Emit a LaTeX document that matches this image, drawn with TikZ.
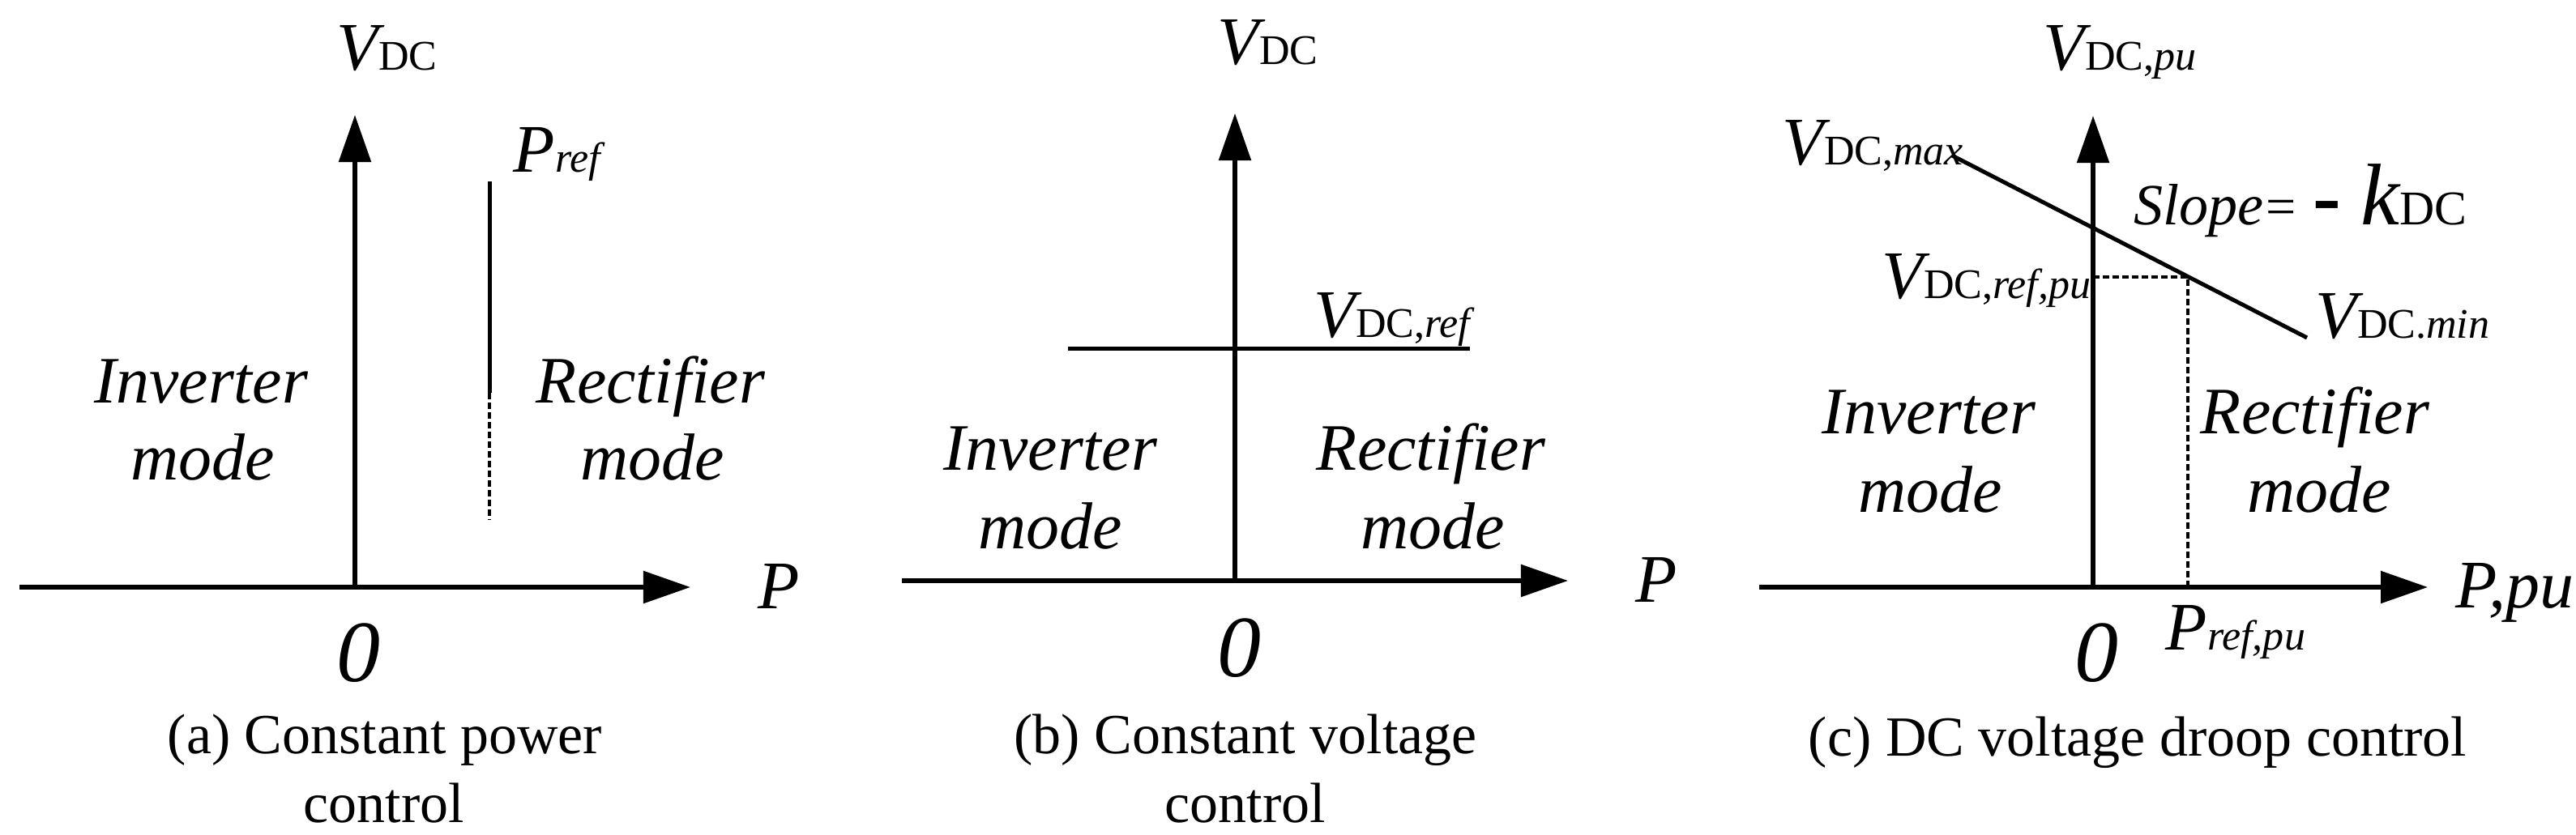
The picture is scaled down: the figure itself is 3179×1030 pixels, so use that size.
\documentclass[tikz,border=0pt]{standalone}
\usepackage{fontspec}
\setmainfont{Liberation Serif}
\usetikzlibrary{arrows.meta}
\newcommand\fsz[1]{\fontsize{#1pt}{#1pt}\selectfont}
\newcommand\mainfs{\fsz{23.9}}
\newcommand\subfs{\fsz{14.8}}
\newcommand\Vl[1]{{\mainfs\itshape V}{\subfs #1}}
\newcommand\Pl[1]{{\mainfs\itshape P}{\subfs\itshape #1}}
\newcommand\modef{\fsz{23.3}\itshape}
\newcommand\capf{\fsz{19.9}}
\newcommand\zerof{\fsz{30.7}\itshape}
\begin{document}
\begin{tikzpicture}[x=0.01cm,y=-0.01cm,
  axis/.style={line width=0.055cm,-{Triangle[length=0.58cm,width=0.39cm]}},
  ln/.style={line width=0.05cm},
  dsh/.style={line width=0.045cm,dash pattern=on 0.08cm off 0.04cm},
  lbl/.style={inner sep=0pt,anchor=base west},
  ctr/.style={inner sep=0pt,anchor=base},
  modetxt/.style={ctr,font=\modef},
  captxt/.style={ctr,font=\capf},
  zerotxt/.style={ctr,font=\zerof}]
\useasboundingbox (0,0) rectangle (3179,1030);

% ---------------- (a) ----------------
\coordinate (ao) at (438,725);
\coordinate (axl) at (24,725);
\coordinate (axr) at (852,725);
\coordinate (ayt) at (438,142);
\draw[axis] (axl) -- (axr);
\draw[axis] (ao) -- (ayt);
\coordinate (ap1) at (604,224);
\coordinate (ap2) at (604,485);
\coordinate (ap3) at (604,642);
\draw[ln] (ap1) -- (ap2);
\draw[dsh] (ap2) -- (ap3);
\node[lbl] (aV) at (415,86) {\Vl{DC}};
\node[lbl] (aPref) at (633,212) {\Pl{ref}};
\node[modetxt] (aInv) at (248,497) {Inverter};
\node[modetxt] (aInvm) at (250,592) {mode};
\node[modetxt] (aRec) at (803,497) {Rectifier};
\node[modetxt] (aRecm) at (805,592) {mode};
\node[lbl] (aP) at (935,751) {{\mainfs\itshape P}};
\node[zerotxt] (a0) at (442,841) {0};
\node[captxt] (acap1) at (475,930) {(a) Constant power};
\node[captxt] (acap2) at (474,1015) {control};

% ---------------- (b) ----------------
\coordinate (bo) at (1524,717);
\coordinate (bxl) at (1113,717);
\coordinate (bxr) at (1935,717);
\coordinate (byt) at (1524,140);
\draw[axis] (bxl) -- (bxr);
\draw[axis] (bo) -- (byt);
\coordinate (bl1) at (1318,430);
\coordinate (bl2) at (1814,430);
\draw[ln] (bl1) -- (bl2);
\node[lbl] (bV) at (1502,79) {\Vl{DC}};
\node[lbl] (bVref) at (1621,416) {\Vl{DC,\textit{ref}}};
\node[modetxt] (bInv) at (1296,580) {Inverter};
\node[modetxt] (bInvm) at (1296,677) {mode};
\node[modetxt] (bRec) at (1766,580) {Rectifier};
\node[modetxt] (bRecm) at (1768,677) {mode};
\node[lbl] (bP) at (2018,743) {{\mainfs\itshape P}};
\node[zerotxt] (b0) at (1529,835) {0};
\node[captxt] (bcap1) at (1537,930) {(b) Constant voltage};
\node[captxt] (bcap2) at (1537,1015) {control};

% ---------------- (c) ----------------
\coordinate (co) at (2583,725);
\coordinate (cxl) at (2171,725);
\coordinate (cxr) at (2996,725);
\coordinate (cyt) at (2583,143);
\draw[axis] (cxl) -- (cxr);
\draw[axis] (co) -- (cyt);
\coordinate (cd1) at (2409,192);
\coordinate (cd2) at (2847,417);
\draw[ln] (cd1) -- (cd2);
\coordinate (cv) at (2583,342);
\coordinate (cc) at (2700,342);
\coordinate (cp) at (2700,725);
\draw[dsh] (cv) -- (cc) -- (cp);
\node[lbl] (cV) at (2521,86) {\Vl{DC,\textit{pu}}};
\node[lbl] (cVmax) at (2199,203) {\Vl{DC,\textit{max}}};
\node[lbl] (cslope) at (2633,277) {{\fsz{20.5}\itshape Slope}\hspace{0.03cm}{\fsz{18.8}=}\hspace{0.2cm}{\fsz{29.6}\bfseries -}\hspace{0.25cm}{\fsz{30.7}\itshape k}{\fsz{17}DC}};
\node[lbl] (cVref) at (2322,368) {\Vl{DC,\textit{ref,pu}}};
\node[lbl] (cVmin) at (2857,417) {\Vl{DC.\textit{min}}};
\node[modetxt] (cInv) at (2380,535) {Inverter};
\node[modetxt] (cInvm) at (2382,632) {mode};
\node[modetxt] (cRec) at (2857,535) {Rectifier};
\node[modetxt] (cRecm) at (2862,632) {mode};
\node[lbl] (cP) at (3030,750) {{\mainfs\itshape P,pu}};
\node[lbl] (cPref) at (2672,802) {\Pl{ref,pu}};
\node[zerotxt] (c0) at (2587,841) {0};
\node[captxt] (ccap) at (2638,933) {(c) DC voltage droop control};
\end{tikzpicture}
\end{document}
